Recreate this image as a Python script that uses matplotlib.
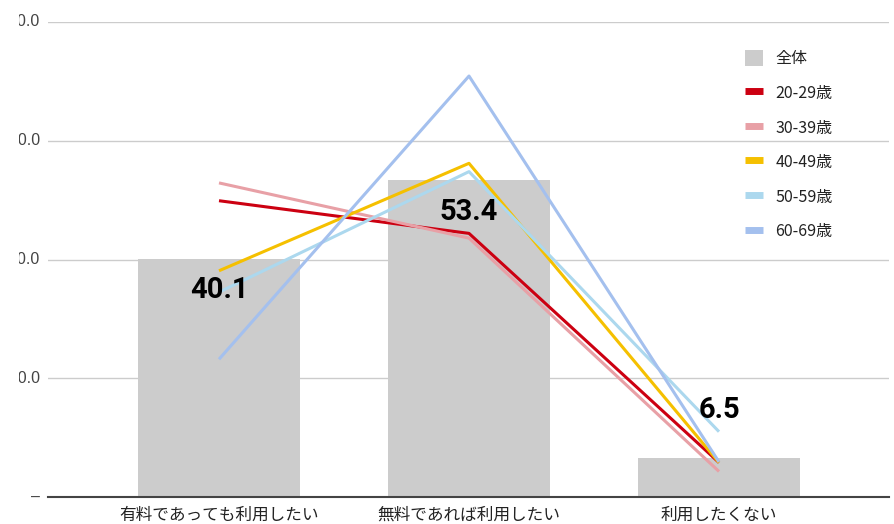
import matplotlib
matplotlib.use("Agg")
import matplotlib.pyplot as plt
from matplotlib.patches import Patch
from matplotlib.lines import Line2D
from matplotlib.transforms import Bbox, IdentityTransform, TransformedBbox
import matplotlib.transforms as mtransforms
import numpy as np

plt.rcParams['font.family'] = ['Noto Sans CJK JP', 'DejaVu Sans']

categories = ["有料であっても利用したい", "無料であれば利用したい", "利用したくない"]
total = [40.1, 53.4, 6.5]
series_names = ["20-29歳", "30-39歳", "40-49歳", "50-59歳", "60-69歳"]
s20 = [49.9, 44.4, 5.8]
s30 = [52.9, 43.6, 4.3]
s40 = [38.1, 56.2, 5.8]
s50 = [34.5, 54.8, 11.0]
s60 = [23.2, 70.9, 5.9]
series_values = [s20, s30, s40, s50, s60]
yticks = [0, 20, 40, 60, 80]
ytick_labels = ["–", "20.0", "40.0", "60.0", "80.0"]

colors = ["#cc0011", "#e8a0a6", "#f5c000", "#acd8ee", "#a4c0ee"]
bar_color = "#cccccc"
label_offsets = [-31, -32, 48]  # px, relative to bar top

W, H = 895, 524
fig = plt.figure(figsize=(W / 100, H / 100), dpi=100)
ax = fig.add_axes([48 / W, (H - 497) / H, (889 - 48) / W, (497 - 22) / H])

x = np.arange(len(categories))
ax.bar(x, total, width=0.648, color=bar_color, zorder=2, label="全体")
for name, vals, c in zip(series_names, series_values, colors):
    ax.plot(x, vals, color=c, lw=2.2, zorder=3, label=name, solid_capstyle='butt')

for xi, v, off in zip(x, total, label_offsets):
    ax.annotate(f"{v:.1f}", (xi, v), xytext=(0, off * 0.72), textcoords='offset points',
                ha='center', va='center', fontsize=21, fontweight='bold',
                family=['Roboto', 'DejaVu Sans'], color='#000000', zorder=5)

ax.set_xlim(-0.684, 2.68)
ax.set_ylim(0, 80)
ax.set_yticks(yticks)
ax.set_yticklabels([])
ax.tick_params(axis='y', length=0)
ax.grid(axis='y', color='#cccccc', lw=1, zorder=0)
ax.set_axisbelow(True)
for s in ['top', 'right', 'left']:
    ax.spines[s].set_visible(False)
ax.spines['bottom'].set_color('#444444')
ax.spines['bottom'].set_linewidth(1.5)
ax.spines['bottom'].set_zorder(4)

ax.set_xticks(x)
ax.set_xticklabels(categories, fontsize=12, color='#222222')
ax.tick_params(axis='x', length=0, pad=7)

clip = TransformedBbox(Bbox([[18.5, 0], [W, H]]), IdentityTransform())
trans = mtransforms.blended_transform_factory(ax.transAxes, ax.transData)
for yv, lab in zip(yticks, ytick_labels):
    t = ax.text(-8 / (889 - 48), yv, lab, transform=trans, ha='right', va='center',
                fontsize=11.5, family=['Liberation Sans', 'DejaVu Sans'], color='#444444',
                clip_on=True)
    t.set_clip_box(clip)

handles = [Patch(facecolor=bar_color, edgecolor='none')] + \
          [Line2D([0], [0], color=c, lw=5, solid_capstyle='butt') for c in colors]
labels = ["全体"] + series_names
leg = fig.legend(handles, labels, loc='upper left', bbox_to_anchor=(745 / W, 1 - 50 / H),
                 frameon=False, fontsize=11.5, handlelength=1.15, handleheight=1.15,
                 handletextpad=0.75, labelspacing=1.08, borderpad=0, borderaxespad=0)
for t in leg.get_texts():
    t.set_color('#222222')

fig.savefig("out.png", dpi=100)
